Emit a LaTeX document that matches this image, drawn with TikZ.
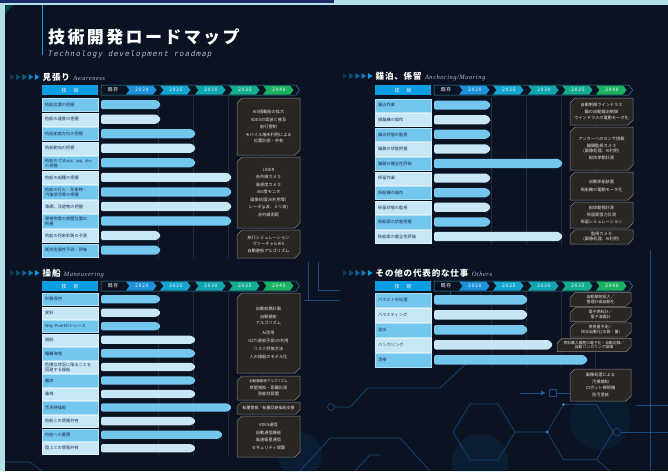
\documentclass[tikz,border=0pt]{standalone}
\usepackage{fontspec}
\setmainfont{Noto Sans CJK JP}
\newfontfamily\jptitle{Noto Sans CJK JP}[LetterSpace=14]
\newfontfamily\jphead{Noto Sans CJK JP}[LetterSpace=10]
\newfontfamily\yrfont{Noto Sans CJK JP}[LetterSpace=18]
\newfontfamily\subfont{DejaVu Sans Mono}[LetterSpace=14]
\newfontfamily\engit{Liberation Serif}[LetterSpace=8]
\usetikzlibrary{shapes.misc}
\definecolor{bg}{HTML}{0B1322}
\definecolor{rowA}{HTML}{74C7EC}
\definecolor{rowB}{HTML}{C7E7F7}
\definecolor{hdrblue}{HTML}{0E9DE2}
\definecolor{boxfill}{HTML}{2A2624}
\definecolor{boxline}{HTML}{85807A}
\definecolor{boxtext}{HTML}{E6E2DE}
\definecolor{labtext}{HTML}{1B2D55}
\definecolor{y20}{HTML}{1D92DA}
\definecolor{y25}{HTML}{14A6D0}
\definecolor{y30}{HTML}{10A6B2}
\definecolor{y35}{HTML}{14AD8E}
\definecolor{y40}{HTML}{1DB163}
\definecolor{tlline}{HTML}{2A8C9C}
\definecolor{circ}{HTML}{1E5C9E}
\definecolor{lcyan}{HTML}{B3E0E6}
\definecolor{navy}{HTML}{1C2A66}
\definecolor{subgrey}{HTML}{B8BCC4}
\tikzset{
 lab/.style={anchor=north west, text width=50pt, align=left, inner xsep=3pt, inner ysep=0pt,
   font=\fontsize{4.2}{5}\selectfont, text=labtext, line width=0.3pt},
 rbox/.style={chamfered rectangle, chamfered rectangle xsep=2.5pt, chamfered rectangle ysep=2.5pt,
   chamfered rectangle corners={north west,south east}, draw=boxline, fill=boxfill, line width=0.5pt,
   text=boxtext, align=center, font=\fontsize{4.2}{7.5}\selectfont, inner sep=0pt},
 hdr/.style={fill=hdrblue, text=white, anchor=north west, minimum width=56pt, minimum height=10pt,
   inner sep=0pt, font=\fontsize{5}{5}\selectfont},
 yr/.style={text=white, font=\yrfont\fontsize{4.8}{5}\selectfont, inner sep=0pt},
 sect/.style={anchor=west, text=white, inner sep=0pt, font=\jphead\fontsize{8.5}{9}\selectfont\bfseries},
 secten/.style={anchor=base west, text=subgrey, inner sep=0pt, font=\engit\fontsize{6.5}{7}\selectfont\itshape},
 circuit/.style={draw=circ, line width=0.6pt, opacity=0.75},
}
% timeline header: name, x0 (label box), ytop
\newcommand\timeline[3]{%
 \node[hdr] (#1h) at (#2,#3) {技\hspace{7pt}術};
 \draw[tlline, line width=0.5pt, fill=bg] ({#2+59},#3) -- ({#2+254},#3) -- ({#2+257.5},{#3+5}) -- ({#2+254},{#3+10}) -- ({#2+59},{#3+10}) -- cycle;
 \node[yr] (#1k) at ({#2+71},{#3+5}) {既存};
 \foreach \s/\lab/\c in {84/2020/y20, 118/2025/y25, 153/2030/y30, 187/2035/y35, 221/2040/y40} {
   \fill[\c] ({#2+\s},{#3+0.5}) -- ({#2+\s+27},{#3+0.5}) -- ({#2+\s+30.5},{#3+5}) -- ({#2+\s+27},{#3+9.5}) -- ({#2+\s},{#3+9.5}) -- ({#2+\s+3.5},{#3+5}) -- cycle;
   \node[yr] (#1y\lab) at ({#2+\s+16},{#3+5}) {\lab};
 }
}
% rows: name, x0, ytop, pitch, height, list text/barend
\newcommand\rows[6]{%
 \foreach \t/\e [count=\i] in {#6} {
   \ifodd\i \def\rc{rowA}\else\def\rc{rowB}\fi
   \pgfmathsetmacro\yt{#3+(\i-1)*#4}
   \pgfmathsetmacro\yc{\yt+#5/2}
   \pgfmathsetmacro\hb{(#5-4)/2}
   \node[lab, fill=\rc, draw=\rc!55!white, minimum height=#5] (#1\i) at (#2,\yt) {\t};
   \fill[\rc, rounded corners=1.5pt] ({#2+59},{\yc-\hb}) -- ({\e-3},{\yc-\hb}) -- ({\e+1},\yc) -- ({\e-3},{\yc+\hb}) -- ({#2+59},{\yc+\hb}) -- cycle;
 }
}
% section header: name, x, y, jp, en
\newcommand\sechead[5]{%
 \foreach \k/\p in {0/25,1/40,2/58,3/78,4/100} {
   \fill[fill=hdrblue!\p!bg] ({#2+\k*6.2},{#3-3}) -- ({#2+\k*6.2+4.6},#3) -- ({#2+\k*6.2},{#3+3}) -- cycle;
 }
 \node[sect] (#1t) at ({#2+32.5},#3) {#4};
 \node[secten] (#1e) at ([xshift=3pt]#1t.base east) {#5};
}
\begin{document}
\begin{tikzpicture}[x=1pt,y=-1pt]
\fill[bg] (0,0) rectangle (668,471);
\useasboundingbox (0,0) rectangle (668,471);
% ---------- background circuit ----------
\fill[cyan!60!blue, opacity=0.10] (480,462) circle (28);
\fill[cyan!60!blue, opacity=0.10] (300,455) circle (22);
\fill[cyan!60!blue, opacity=0.08] (600,420) circle (30);
\draw[circuit] (308,262) -- (308,300);
\draw[circuit] (318,262) -- (318,290) -- (340,290);
\draw[circuit] (304,300) -- (340,300);
\draw[circuit] (331,407) circle (3.5);
\draw[circuit] (334.5,407) -- (350,407) -- (368,388) -- (440,388) -- (470,360);
\draw[circuit] (300,471) -- (330,438) -- (400,438) -- (430,471);
\draw[circuit] (355,471) -- (370,455) -- (380,455);
\draw[circuit] (520,393) -- (545,393);
\fill[circ] (545,393) -- (541,390.5) -- (541,395.5) -- cycle;
\draw[circuit] (549,389.5) rectangle (556,396.5);
\draw[circuit] (556,393) -- (575,393);
\draw[circuit] (613,432) -- (596.5,404.3) -- (563.5,404.3) -- (547,432) -- (563.5,459.7) -- (596.5,459.7) -- cycle;
\draw[circuit] (547,432) -- (515,432) -- (498,404) -- (470,404) -- (453,432) -- (470,460) -- (498,460) -- (515,432);
\draw[circuit] (617,432) circle (4);
\draw[circuit] (621,432) -- (668,432);
\draw[circuit] (596.5,459.7) -- (610,471);
\draw[circuit] (650,250) -- (650,471);
\draw[circuit] (636,405) -- (668,405);
\draw[circuit] (450,300) -- (450,290);
\draw[circuit] (0,462) -- (30,462) -- (42,471);
\fill[cyan!70!white, opacity=0.6] (547,432) circle (1.5);
\fill[cyan!70!white, opacity=0.6] (563.5,404.3) circle (1.5);
% ---------- frame ----------
\fill[lcyan] (0,0) rectangle (668,5);
\fill[lcyan] (0,0) rectangle (5,471);
\fill[navy] (0,0) rectangle (334,3.3);
\fill[teal!40!bg] (5,5) -- (13,5) -- (5,14) -- cycle;
\draw[hdrblue, line width=0.8pt] (42,5) -- (42,55);
% ---------- title ----------
\node[anchor=west, text=white, inner sep=0pt, font=\jptitle\fontsize{17}{17}\selectfont\bfseries] (title) at (48,37.5) {技術開発ロードマップ};
\node[anchor=west, text=subgrey, inner sep=0pt, font=\subfont\fontsize{7.5}{8}\selectfont\itshape] (subtitle) at (48,54) {Technology development roadmap};
% ---------- section headers ----------
\sechead{s1}{10}{77}{見張り}{Awareness}
\sechead{s2}{343}{76}{錨泊、係留}{Anchoring/Mooring}
\sechead{s3}{10}{273}{操船}{Maneuvering}
\sechead{s4}{343}{273}{その他の代表的な仕事}{Others}
% ---------- faint grid ----------
\foreach \gx in {158,193,228,262} {
  \draw[white, opacity=0.10, line width=0.4pt] (\gx,97) -- (\gx,259);
  \draw[white, opacity=0.10, line width=0.4pt] (\gx,292) -- (\gx,456);
}
\foreach \gx in {491,526,561,595} {
  \draw[white, opacity=0.10, line width=0.4pt] (\gx,97) -- (\gx,245);
  \draw[white, opacity=0.10, line width=0.4pt] (\gx,292) -- (\gx,369);
}
% ---------- timelines ----------
\timeline{t1}{42}{85}
\timeline{t2}{375}{85}
\timeline{t3}{42}{281}
\timeline{t4}{375}{281}
% ---------- rows ----------
\rows{a}{42}{98}{14.55}{13.2}{他船位置の把握/160, 他船の速度の把握/160, 他船船首方位の把握/195, 他船動向の把握/195, {他船の寸法{\fontsize{3}{3}\selectfont(船長、船幅、喫水)}\\の把握}/195, 他船の船種の把握/231, {他船の灯火・形象物・\\汽笛信号等の把握}/231, 漁網、浮遊物の把握/231, {障害物等の岸壁位置の\\把握}/231, 他船の将来針路の予測/160, 衝突危険性予測・評価/160}
\rows{b}{375}{98.5}{14.6}{13.2}{錨泊作業/490, 揚錨機の操作/490, 錨泊状態の監視/490, 錨鎖の状態把握/490, 錨鎖の健全性評価/562, 係留作業/490, 係船機の操作/490, 係留状態の監視/490, 係船索の状態把握/490, 係船索の健全性評価/562}
\rows{c}{42}{293}{13.55}{12.3}{針路保持/160, 変針/160, Way Pointのトレース/160, 避航/195, 輻輳海域/195, {危険な状況に陥ることを\\回避する操船}/195, 離岸/195, 着桟/195, 荒天時操船/231, 他船との情報共有/195, 他船への要請/222, 陸上との情報共有/195}
\rows{d}{375}{293}{15}{13.5}{バラスト水処理/527, バラスティング/527, 造水/527, バンカリング/552, 清掃/587}
% ---------- right boxes: awareness ----------
\node[rbox, minimum width=63pt, minimum height=57pt] (a-b1) at (268.5,126.5) {AIS搭載船の拡大\\VDESの実装と普及\\航行管制\\モバイル端末利用による\\[-1.5pt]位置計測・共有};
\node[rbox, minimum width=63pt, minimum height=71pt] (a-b2) at (268.5,192.5) {LIDER\\赤外線カメラ\\高感度カメラ\\360度モニタ\\画像処理(AI利用等)\\レーダ(μ波、ミリ波)\\赤外線測距};
\node[rbox, minimum width=63pt, minimum height=28pt, font=\fontsize{4.2}{6.5}\selectfont] (a-b3) at (268.5,244) {航行シミュレーション\\ヴァーチャルAIS\\自動避航アルゴリズム};
% ---------- right boxes: anchoring ----------
\node[rbox, minimum width=63pt, minimum height=27pt, font=\fontsize{4.2}{6.8}\selectfont] (b-b1) at (601.5,111.5) {自動制御ウインドラス\\錨の自動錨泊制御\\ウインドラスの電動モータ化};
\node[rbox, minimum width=63pt, minimum height=43pt, font=\fontsize{4.2}{7}\selectfont] (b-b2) at (601.5,148.5) {アンカーへのセンサ搭載\\錨鎖監視カメラ\\[-1.5pt](画像処理、AI利用)\\船体挙動計測};
\node[rbox, minimum width=63pt, minimum height=28pt, font=\fontsize{4.2}{8}\selectfont] (b-b3) at (601.5,186) {自動係船装置\\係船機の電動モータ化};
\node[rbox, minimum width=63pt, minimum height=26pt, font=\fontsize{4.2}{7}\selectfont] (b-b4) at (601.5,215) {船体動揺計測\\係留索張力計測\\係留シミュレーション};
\node[rbox, minimum width=63pt, minimum height=14pt, font=\fontsize{4.2}{5}\selectfont] (b-b5) at (601.5,237) {監視カメラ\\(画像処理、AI利用)};
% ---------- right boxes: maneuvering ----------
\node[rbox, minimum width=63pt, minimum height=80pt, font=\fontsize{4.2}{8}\selectfont] (c-b1) at (268.5,333) {自動航路計画\\自動避航\\[-2pt]アルゴリズム\\[2pt]AI活用\\OZT(避航予測)の利用\\リスク評価方法\\人の操船のモデル化};
\node[rbox, minimum width=63pt, minimum height=24pt, font=\fontsize{4.2}{6.5}\selectfont] (c-b2) at (268.5,388) {{\fontsize{3.5}{4}\selectfont 自動離着桟アルゴリズム}\\岸壁検知・距離計測\\防舷材設置};
\node[rbox, minimum width=63pt, minimum height=12pt, font=\fontsize{4}{5}\selectfont] (c-b3) at (268.5,408) {転覆警報／転覆回避操船支援};
\node[rbox, minimum width=63pt, minimum height=41pt, font=\fontsize{4.2}{7.5}\selectfont] (c-b4) at (268.5,436.5) {VDES通信\\自動通信機能\\高速衛星通信\\セキュリティ保護};
% ---------- right boxes: others ----------
\node[rbox, minimum width=61pt, minimum height=13pt, font=\fontsize{4}{5}\selectfont] (d-b1) at (600.5,299.5) {自動薬剤投入／\\管理計画自動化};
\node[rbox, minimum width=61pt, minimum height=13pt, font=\fontsize{4}{5}\selectfont] (d-b2) at (600.5,314.5) {電子燃料計／\\電子油面計};
\node[rbox, minimum width=61pt, minimum height=14pt, font=\fontsize{4}{5}\selectfont] (d-b3) at (600.5,330) {使用量予測／\\採水自動化(水質・量)};
\node[rbox, minimum width=74pt, minimum height=12pt, font=\fontsize{3.8}{4.8}\selectfont] (d-b4) at (594,345) {燃料購入履歴の電子化・自動記録／\\自動バンカリング設備};
\node[rbox, minimum width=61pt, minimum height=32pt, font=\fontsize{4.2}{6.5}\selectfont] (d-b5) at (600.5,385) {画像処理による\\汚損検知\\ロボット掃除機\\防汚塗装};
\end{tikzpicture}
\end{document}
